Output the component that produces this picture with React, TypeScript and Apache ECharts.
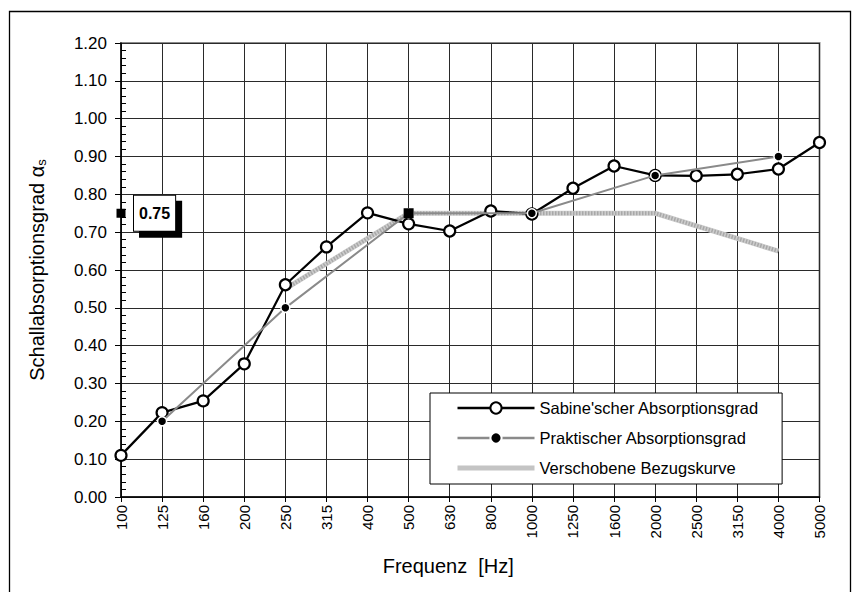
import React, { useEffect, useRef } from "react";
import * as echarts from "echarts";

const frequencies = ["100","125","160","200","250","315","400","500","630","800","1000","1250","1600","2000","2500","3150","4000","5000"];
const sabine = [0.11,0.223,0.254,0.352,0.561,0.661,0.751,0.722,0.703,0.756,0.748,0.816,0.875,0.85,0.849,0.853,0.867,0.937];
const praktisch = [null,0.20,null,null,0.50,null,null,0.75,null,null,0.75,null,null,0.85,null,null,0.90,null];
const bezugskurve = [null,null,null,null,0.55,null,null,0.75,null,null,0.75,null,null,0.75,null,null,0.65,null];
const yTicks = { min: 0, max: 1.2, interval: 0.1 };
const alphaW = 0.75;
const alphaWFreq = "500";
const seriesNames = ["Sabine'scher Absorptionsgrad", "Praktischer Absorptionsgrad", "Verschobene Bezugskurve"];

const FONT = "Liberation Sans, Arial, sans-serif";

export default function App() {
  const ref = useRef<HTMLDivElement>(null);
  useEffect(() => {
    if (!ref.current) return;
    const chart = echarts.init(ref.current, undefined, { renderer: "svg" });
    chart.setOption({
      animation: false,
      backgroundColor: "#fff",
      textStyle: { fontFamily: FONT, color: "#000" },
      grid: { left: 121, right: 35.5, top: 43, bottom: 95, show: true, borderColor: "#8a8a8a", borderWidth: 2, backgroundColor: "transparent" },
      graphic: [
        { type: "rect", silent: true, z: 0, shape: { x: 9.5, y: 11.5, width: 841, height: 600 }, style: { fill: "none", stroke: "#000", lineWidth: 1.3 } },
      ],
      legend: {
        data: [
          { name: seriesNames[0], lineStyle: { width: 2.5, color: "#000" } },
          { name: seriesNames[1], lineStyle: { width: 2.5, color: "#8a8a8a" } },
          { name: seriesNames[2], itemStyle: { opacity: 0 }, lineStyle: { width: 5, color: "#c4c4c4" } },
        ],
        orient: "vertical",
        left: 430,
        top: 393,
        padding: [6, 23, 7, 25],
        itemWidth: 77,
        itemHeight: 14,
        itemGap: 12,
        backgroundColor: "#fff",
        borderColor: "#000",
        borderWidth: 1,
        textStyle: { fontFamily: FONT, fontSize: 16.5, color: "#000", lineHeight: 18 },
        z: 20,
      },
      xAxis: {
        type: "category",
        data: frequencies,
        boundaryGap: false,
        name: "Frequenz  [Hz]",
        nameLocation: "middle",
        nameGap: 59,
        nameTextStyle: { fontFamily: FONT, fontSize: 20, color: "#000", padding: [0, 44, 0, 0] },
        axisLine: { lineStyle: { color: "#000", width: 1.5 } },
        axisTick: { show: true, length: 5, interval: 0, lineStyle: { color: "#000" } },
        axisLabel: { rotate: 90, interval: 0, margin: 8, fontSize: 15, color: "#000", fontFamily: FONT },
        splitLine: { show: true, interval: 0, lineStyle: { color: "#2a2a2a", width: 1 } },
      },
      yAxis: {
        type: "value",
        min: yTicks.min,
        max: yTicks.max,
        interval: yTicks.interval,
        name: "{a|Schallabsorptionsgrad α}{s|s}",
        nameLocation: "middle",
        nameRotate: 90,
        nameGap: 73,
        nameTextStyle: {
          fontFamily: FONT,
          fontSize: 20,
          color: "#000",
          rich: {
            a: { fontFamily: FONT, fontSize: 20, color: "#000", lineHeight: 23 },
            s: { fontFamily: FONT, fontSize: 13, color: "#000", verticalAlign: "bottom", lineHeight: 23 },
          },
        },
        axisLine: { show: true, lineStyle: { color: "#000", width: 1.5 } },
        axisTick: { show: true, length: 6, lineStyle: { color: "#000" } },
        minorTick: { show: true, splitNumber: 5, length: -5, lineStyle: { color: "#000" } },
        axisLabel: { fontSize: 17, margin: 14, color: "#000", fontFamily: FONT, formatter: (v: number) => v.toFixed(2) },
        splitLine: { show: true, lineStyle: { color: "#2a2a2a", width: 1 } },
      },
      series: [
        {
          name: seriesNames[2],
          type: "line",
          data: bezugskurve,
          connectNulls: true,
          showSymbol: false,
          symbol: "none",
          lineStyle: { color: "#cdcdcd", width: 5 },
          itemStyle: { color: "#cdcdcd" },
          z: 2,
          markPoint: {
            z: 10,
            data: [
              {
                coord: [frequencies[0], alphaW], value: alphaW, symbol: "rect", symbolSize: 9,
                itemStyle: { color: "#000" },
                label: {
                  show: true, position: "right", distance: 8.5, formatter: "{c}",
                  fontFamily: FONT, fontWeight: "bold", fontSize: 16, color: "#000",
                  backgroundColor: "#fff", borderColor: "#000", borderWidth: 1,
                  padding: [9, 5, 9, 5], lineHeight: 17,
                  shadowColor: "#000", shadowBlur: 0, shadowOffsetX: 6, shadowOffsetY: 6,
                },
              },
              {
                coord: [alphaWFreq, alphaW], value: alphaW, symbol: "rect", symbolSize: 10,
                itemStyle: { color: "#000" },
                label: { show: false },
              },
            ],
          },
        },
        {
          name: "hatch",
          type: "line",
          data: bezugskurve,
          connectNulls: true,
          showSymbol: false,
          symbol: "none",
          lineStyle: { color: "#a8a8a8", width: 4, type: [1.5, 1.5] },
          z: 2,
          silent: true,
        },
        {
          name: seriesNames[0],
          type: "line",
          data: sabine,
          symbol: "circle",
          symbolSize: 11,
          lineStyle: { color: "#000", width: 2.2 },
          itemStyle: { color: "#fff", borderColor: "#000", borderWidth: 2.2 },
          z: 3,
        },
        {
          name: seriesNames[1],
          type: "line",
          data: praktisch,
          connectNulls: true,
          symbol: "circle",
          symbolSize: 9,
          lineStyle: { color: "#8a8a8a", width: 2 },
          itemStyle: { color: "#000", borderColor: "#fff", borderWidth: 1.5 },
          z: 4,
        },
      ],
    });
    return () => chart.dispose();
  }, []);
  return <div ref={ref} style={{ position: "fixed", left: 0, top: 0, width: 855, height: 592 }} />;
}
